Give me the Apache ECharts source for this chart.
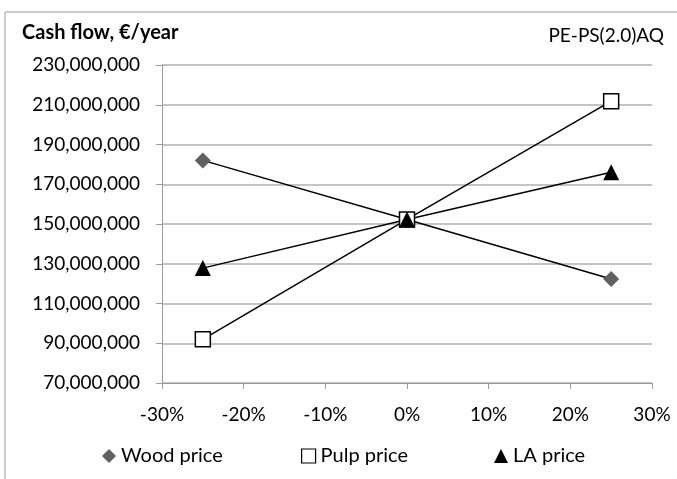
<!DOCTYPE html>
<html>
<head>
<meta charset="utf-8">
<script src="https://cdn.jsdelivr.net/npm/echarts@6/dist/echarts.min.js"></script>
<style>
  html, body { margin: 0; padding: 0; background: #fff; }
  #chart { width: 677px; height: 479px; }
</style>
</head>
<body>
<div id="chart"></div>
<script>
// Data
const changes = [-25, 0, 25];
const woodPrice = [182000000, 152300000, 122300000];
const pulpPrice = [92000000, 152300000, 211800000];
const laPrice = [127800000, 152300000, 176000000];
const seriesNames = ['Wood price', 'Pulp price', 'LA price'];

const font = 'Lato, "Open Sans", sans-serif';

function pairs(values) {
    return changes.map((c, i) => [c, values[i]]);
}

// Een legenda per item, zodat de posities kloppen
function legendItem(left, entry) {
    return {
        bottom: 8,
        left: left,
        itemWidth: 14,
        itemHeight: 14,
        itemGap: 6,
        textStyle: { fontSize: 20, fontFamily: font, color: '#000' },
        data: [entry]
    };
}

let chart = echarts.init(document.getElementById('chart'));

let option = {
    animation: false,
    textStyle: { fontFamily: font, color: '#000' },
    graphic: [
        {
            type: 'rect',
            shape: { x: 5, y: 12, width: 720, height: 520 },
            style: { fill: 'none', stroke: '#9a9a9a', lineWidth: 1 }
        },
        {
            type: 'text', left: 22, top: 23,
            style: { text: 'Cash flow, €/year', font: 'bold 20px ' + font, fill: '#000' }
        },
        {
            type: 'text', right: 13, top: 26,
            style: { text: 'PE-PS(2.0)AQ', font: '19px ' + font, fill: '#000' }
        }
    ],
    grid: { left: 162, right: 25, top: 65, bottom: 96 },
    legend: [
        legendItem(97, { name: seriesNames[0], icon: 'diamond', itemStyle: { color: '#606060' } }),
        legendItem(296, { name: seriesNames[1], icon: 'rect', itemStyle: { color: '#fff', borderColor: '#000', borderWidth: 1.2 } }),
        legendItem(489, { name: seriesNames[2], icon: 'triangle', itemStyle: { color: '#000' } })
    ],
    xAxis: {
        type: 'value',
        min: -30,
        max: 30,
        interval: 10,
        axisLine: { onZero: false, lineStyle: { color: '#9a9a9a' } },
        axisTick: { show: true, length: 6, inside: false, lineStyle: { color: '#9a9a9a' } },
        splitLine: { show: false },
        axisLabel: { formatter: v => v + '%', fontSize: 19, color: '#000', margin: 22 }
    },
    yAxis: {
        type: 'value',
        min: 70000000,
        max: 230000000,
        interval: 20000000,
        axisLine: { show: true, onZero: false, lineStyle: { color: '#9a9a9a' } },
        axisTick: { show: true, length: 6, lineStyle: { color: '#9a9a9a' } },
        splitLine: { show: true, lineStyle: { color: '#b0b0b0', width: 1.5 } },
        axisLabel: {
            formatter: v => v.toLocaleString('en-US'),
            fontSize: 19, color: '#000', margin: 22
        }
    },
    series: [
        {
            name: seriesNames[0],
            type: 'line',
            data: pairs(woodPrice),
            symbol: 'diamond',
            symbolSize: 16,
            lineStyle: { color: '#000', width: 1.5 },
            itemStyle: { color: '#606060', borderWidth: 0 }
        },
        {
            name: seriesNames[1],
            type: 'line',
            data: pairs(pulpPrice),
            symbol: 'rect',
            symbolSize: 15,
            lineStyle: { color: '#000', width: 1.5 },
            itemStyle: { color: '#fff', borderColor: '#000', borderWidth: 1.5 }
        },
        {
            name: seriesNames[2],
            type: 'line',
            data: pairs(laPrice),
            symbol: 'triangle',
            symbolSize: 16,
            lineStyle: { color: '#000', width: 1.5 },
            itemStyle: { color: '#000', borderWidth: 0 }
        }
    ]
};

chart.setOption(option);
window.onresize = () => chart.resize();
</script>
</body>
</html>
